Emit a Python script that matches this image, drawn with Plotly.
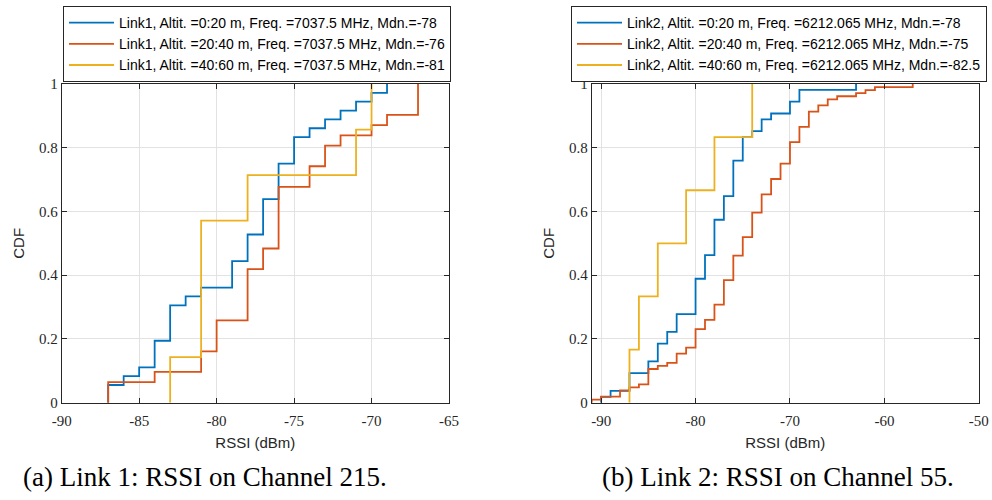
import numpy as np
import plotly.graph_objects as go

# ---------------- data ----------------
# Link 1 (Channel 215): RSSI levels (dBm) and sample counts at each level
l1_a_rssi = [-87, -86, -85, -84, -83, -82, -81, -79, -78, -77, -76, -75, -74, -73, -72, -71, -70, -69]
l1_a_cnt = [2, 1, 1, 3, 4, 1, 1, 3, 3, 4, 4, 3, 1, 1, 1, 1, 1, 1]
l1_b_rssi = [-87, -84, -81, -80, -78, -77, -76, -74, -73, -72, -70, -69, -67]
l1_b_cnt = [2, 1, 2, 3, 5, 2, 6, 2, 2, 1, 1, 1, 3]
l1_c_rssi = [-83, -81, -78, -71, -70]
l1_c_cnt = [1, 3, 1, 1, 1]

# Link 2 (Channel 55)
l2_a_rssi = [-90, -89, -87, -85, -84, -83, -82, -80, -79, -78, -77, -76, -75, -74, -73, -72, -70, -69, -63]
l2_a_cnt = [1, 1, 3, 2, 3, 2, 3, 6, 4, 6, 4, 6, 4, 1, 2, 1, 2, 2, 1]
l2_b_rssi = [-91, -90, -88, -87, -86, -85, -84, -83, -82, -81, -80, -79, -78, -77, -76, -75,
             -74, -73, -72, -71, -70, -69, -68, -67, -66, -65, -63, -62, -61, -57]
l2_b_cnt = [1, 1, 2, 1, 1, 5, 1, 1, 3, 2, 6, 3, 5, 8, 8, 6,
            8, 6, 5, 5, 7, 5, 5, 2, 2, 1, 1, 1, 1, 1]
l2_c_rssi = [-87, -86, -84, -81, -78, -74]
l2_c_cnt = [1, 1, 1, 1, 1, 1]

names_l1 = ["Link1, Altit. =0:20 m, Freq. =7037.5 MHz, Mdn.=-78",
            "Link1, Altit. =20:40 m, Freq. =7037.5 MHz, Mdn.=-76",
            "Link1, Altit. =40:60 m, Freq. =7037.5 MHz, Mdn.=-81"]
names_l2 = ["Link2, Altit. =0:20 m, Freq. =6212.065 MHz, Mdn.=-78",
            "Link2, Altit. =20:40 m, Freq. =6212.065 MHz, Mdn.=-75",
            "Link2, Altit. =40:60 m, Freq. =6212.065 MHz, Mdn.=-82.5"]

x1_ticks = [-90, -85, -80, -75, -70, -65]
x2_ticks = [-90, -80, -70, -60, -50]
y_ticks = [0, 0.2, 0.4, 0.6, 0.8, 1]
y_ticktext = ["0", "0.2", "0.4", "0.6", "0.8", "1"]

colors = ["#0072BD", "#D95319", "#EDB120"]

# ---------------- figure ----------------
def ecdf_xy(rssi, cnt):
    c = np.cumsum(cnt) / np.sum(cnt)
    xs = [rssi[0]] + list(rssi)
    ys = [0.0] + list(c)
    return xs, ys

fig = go.Figure()
series1 = [(l1_a_rssi, l1_a_cnt), (l1_b_rssi, l1_b_cnt), (l1_c_rssi, l1_c_cnt)]
series2 = [(l2_a_rssi, l2_a_cnt), (l2_b_rssi, l2_b_cnt), (l2_c_rssi, l2_c_cnt)]

for i, (r, c) in enumerate(series1):
    xs, ys = ecdf_xy(r, c)
    fig.add_trace(go.Scatter(x=xs, y=ys, mode="lines", line=dict(color=colors[i], width=1.8, shape="hv"),
                             name=names_l1[i], xaxis="x", yaxis="y", legend="legend"))
for i, (r, c) in enumerate(series2):
    xs, ys = ecdf_xy(r, c)
    fig.add_trace(go.Scatter(x=xs, y=ys, mode="lines", line=dict(color=colors[i], width=1.8, shape="hv"),
                             name=names_l2[i], xaxis="x2", yaxis="y2", legend="legend2"))

W, H = 992, 500
ydom = [1 - 402.7 / H, 1 - 84 / H]
tickfont = dict(family="Liberation Serif", size=15, color="#262626")
titlefont = dict(family="Liberation Sans", size=15, color="#262626")
axis_common = dict(showline=True, linecolor="#262626", linewidth=1, mirror="ticks",
                   ticks="inside", ticklen=5, tickcolor="#262626", tickwidth=1,
                   showgrid=True, gridcolor="#e2e2e2", gridwidth=1, zeroline=False,
                   tickfont=tickfont)
legfont = dict(family="Liberation Sans", size=14, color="black")

fig.update_layout(
    width=W, height=H, margin=dict(l=0, r=0, t=0, b=0, autoexpand=False),
    plot_bgcolor="white", paper_bgcolor="white",
    xaxis=dict(domain=[61.7 / W, 449 / W], range=[-90, -65], tickvals=x1_ticks,
               ticktext=[str(v) for v in x1_ticks], anchor="y", ticklabelstandoff=4,
               title=dict(text="RSSI (dBm)", font=titlefont, standoff=9), **axis_common),
    yaxis=dict(domain=ydom, range=[0, 1], tickvals=y_ticks, ticktext=y_ticktext, anchor="x",
               title=dict(text="CDF", font=titlefont, standoff=10), **axis_common),
    xaxis2=dict(domain=[591.7 / W, 978.8 / W], range=[-91, -50], tickvals=x2_ticks,
                ticktext=[str(v) for v in x2_ticks], anchor="y2", ticklabelstandoff=4,
                title=dict(text="RSSI (dBm)", font=titlefont, standoff=9), **axis_common),
    yaxis2=dict(domain=ydom, range=[0, 1], tickvals=y_ticks, ticktext=y_ticktext, anchor="x2",
                title=dict(text="CDF", font=titlefont, standoff=10), **axis_common),
    legend=dict(x=63 / W, y=1 - 6 / H, xanchor="left", yanchor="top",
                bgcolor="white", bordercolor="#262626", borderwidth=1,
                font=legfont, tracegroupgap=0, itemwidth=45),
    legend2=dict(x=571 / W, y=1 - 6 / H, xanchor="left", yanchor="top",
                 bgcolor="white", bordercolor="#262626", borderwidth=1,
                 font=legfont, tracegroupgap=0, itemwidth=45),
    annotations=[
        dict(text="(a) Link 1: RSSI on Channel 215.", x=205 / W, y=1 - 477 / H, xref="paper", yref="paper",
             showarrow=False, font=dict(family="Liberation Serif", size=27, color="black"),
             xanchor="center", yanchor="middle"),
        dict(text="(b) Link 2: RSSI on Channel 55.", x=778 / W, y=1 - 477 / H, xref="paper", yref="paper",
             showarrow=False, font=dict(family="Liberation Serif", size=27, color="black"),
             xanchor="center", yanchor="middle"),
    ],
)

fig.write_html("out.html")
